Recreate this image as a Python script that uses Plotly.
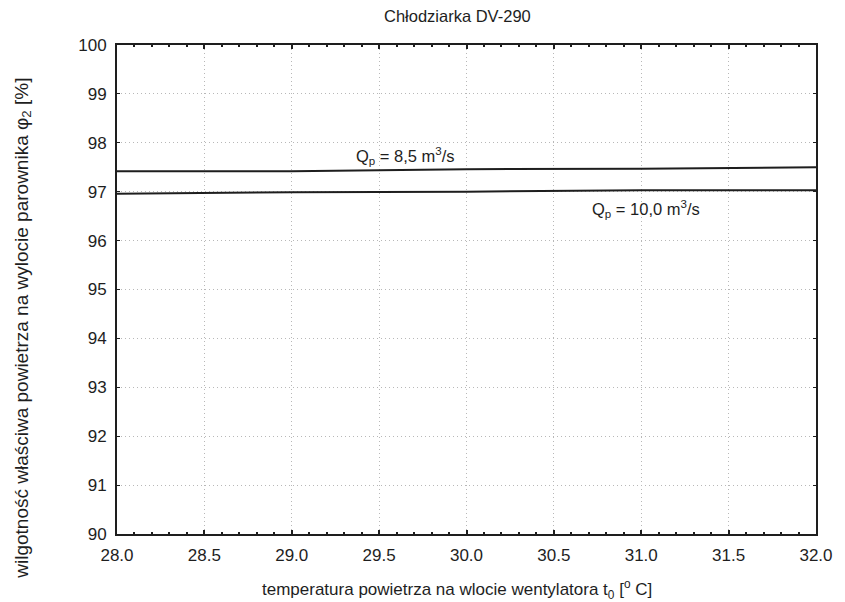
import plotly.graph_objects as go

temp = [28.0, 29.0, 30.0, 31.0, 32.0]
phi_q85 = [97.42, 97.42, 97.46, 97.47, 97.50]
phi_q100 = [96.96, 96.99, 97.00, 97.03, 97.03]
x_ticks = [28.0, 28.5, 29.0, 29.5, 30.0, 30.5, 31.0, 31.5, 32.0]
y_ticks = [90, 91, 92, 93, 94, 95, 96, 97, 98, 99, 100]

font = "Liberation Sans, Arial, sans-serif"
ink = "#1e1e1e"


def c(s):
    return f"<span style='color:{ink}'>{s}</span>"


fig = go.Figure()
fig.add_trace(go.Scatter(x=temp, y=phi_q85, mode="lines",
                         line=dict(color=ink, width=2), showlegend=False))
fig.add_trace(go.Scatter(x=temp, y=phi_q100, mode="lines",
                         line=dict(color=ink, width=2), showlegend=False))

fig.add_annotation(x=29.65, y=97.72, text=f"Q<sub>{c('p')}</sub> = 8,5 m<sup>{c('3')}</sup>/s",
                   showarrow=False, font=dict(family=font, size=16.5, color=ink))
fig.add_annotation(x=31.03, y=96.64, text=f"Q<sub>{c('p')}</sub> = 10,0 m<sup>{c('3')}</sup>/s",
                   showarrow=False, font=dict(family=font, size=16.5, color=ink))

# title and axis titles placed as paper annotations
fig.add_annotation(xref="paper", yref="paper", x=0.487, y=1.059, text="Chłodziarka DV-290",
                   showarrow=False, xanchor="center", yanchor="middle",
                   font=dict(family=font, size=16.5, color=ink))
fig.add_annotation(xref="paper", yref="paper", x=0.486, y=-0.1145,
                   text=f"temperatura powietrza na wlocie wentylatora t<sub>{c('0')}</sub> [<sup>{c('o')}</sup> C]",
                   showarrow=False, xanchor="center", yanchor="middle",
                   font=dict(family=font, size=17, color=ink))
fig.add_annotation(xref="paper", yref="paper", x=-0.135, y=0.421, textangle=-90,
                   text=f"wilgotność właściwa powietrza na wylocie parownika φ<sub>{c('2')}</sub> [%]",
                   showarrow=False, xanchor="center", yanchor="middle",
                   font=dict(family=font, size=19, color=ink))

fig.update_layout(
    width=837, height=594,
    margin=dict(l=109, r=21, t=37, b=68),
    paper_bgcolor="white", plot_bgcolor="white",
    font=dict(family=font, size=17, color=ink),
    xaxis=dict(range=[28, 32], tickvals=x_ticks, ticktext=[f"{v:.1f}" for v in x_ticks],
               showline=True, linecolor=ink, linewidth=2, mirror="ticks",
               ticks="inside", ticklen=4, tickcolor=ink, tickwidth=1.5,
               ticklabelstandoff=5, ticklabeloverflow="allow",
               minor=dict(dtick=0.1, ticks="inside", ticklen=2, tickcolor=ink, showgrid=False),
               showgrid=True, gridcolor="#b8b8b8", griddash="1px,3px", gridwidth=1,
               zeroline=False),
    yaxis=dict(range=[90, 100], tickvals=y_ticks,
               showline=True, linecolor=ink, linewidth=2, mirror="ticks",
               ticks="inside", ticklen=3, tickcolor=ink, tickwidth=1,
               ticklabelstandoff=5, ticklabeloverflow="allow",
               showgrid=True, gridcolor="#b8b8b8", griddash="1px,3px", gridwidth=1,
               zeroline=False),
)

fig.write_html("out.html")
